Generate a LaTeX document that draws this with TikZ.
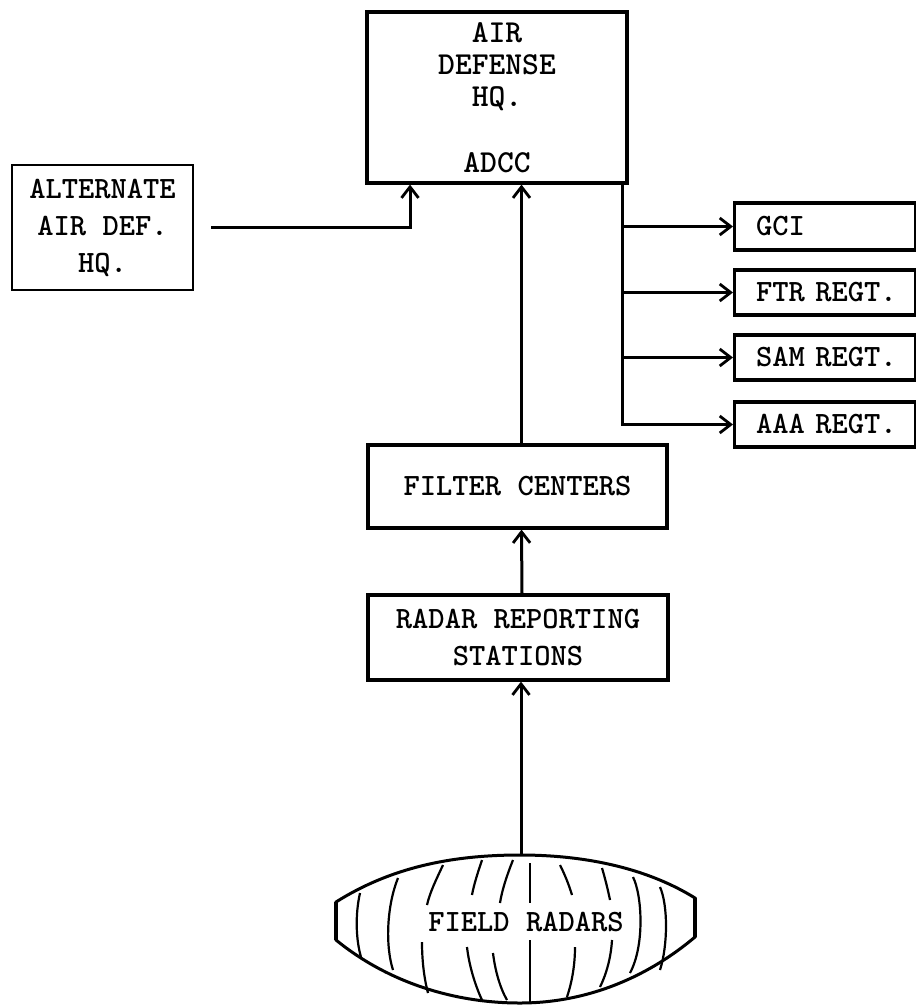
\documentclass[tikz,border=0pt]{standalone}
\usetikzlibrary{arrows.meta}
\newcommand\myTT{\fontsize{31}{37}\selectfont\ttfamily\bfseries}
\newcommand\myTTb{\fontsize{32}{32}\selectfont\ttfamily\bfseries}
\begin{document}
\begin{tikzpicture}[x=1pt,y=-1pt,
  box/.style={draw, line width=3.2pt, inner sep=0pt, align=center, font=\myTT},
  rbox/.style={draw, line width=3.2pt, anchor=west, inner xsep=10.5pt, inner ysep=0pt,
    text width=160pt, minimum height=45pt, align=left, font=\myTT},
  conn/.style={line width=3pt, -{Straight Barb[length=11pt,width=17pt,line width=2.8pt]}},
  bus/.style={line width=3pt},
  mer/.style={line width=2.2pt},
  outline/.style={line width=3pt}]
\useasboundingbox (0,0) rectangle (916,1005);

% boxes
\node[box, font=\myTTb, minimum width=260pt, minimum height=171pt] (adhq) at (497,97.5)
  {AIR\\DEFENSE\\HQ.\\[34pt]ADCC};
\node[box, line width=2.4pt, minimum width=181pt, minimum height=125pt] (alt) at (102.5,227.5)
  {ALTERNATE\\AIR DEF.\\HQ.};
\node[box, minimum width=299pt, minimum height=83pt] (filt) at (517.5,486.5)
  {FILTER CENTERS};
\node[box, minimum width=300pt, minimum height=85pt] (rrs) at (518,637.5)
  {RADAR REPORTING\\STATIONS};

\node[rbox, minimum height=47pt] (gci) at (733,226.5) {\hspace*{11pt}GCI};
\node[rbox] (ftr) at (733,292.5) {\hspace*{11pt}FTR REGT.};
\node[rbox] (sam) at (733,357.5) {\hspace*{11pt}SAM REGT.};
\node[rbox] (aaa) at (733,424.5) {\hspace*{11pt}AAA REGT.};

% bus to subordinate units
\coordinate (bustop) at (622,184);
\coordinate (busbot) at (622,426);
\draw[bus] (bustop) -- (busbot);
\draw[conn] (bustop |- gci.west) -- (gci.west);
\draw[conn] (bustop |- ftr.west) -- (ftr.west);
\draw[conn] (bustop |- sam.west) -- (sam.west);
\draw[conn] (bustop |- aaa.west) -- (aaa.west);

% alternate HQ link
\draw[conn, shorten <=17pt] (alt.east) -| ([xshift=-87pt]adhq.south);

% vertical chain
\draw[conn] ([xshift=4pt]filt.north) -- ([xshift=4pt]filt.north |- adhq.south);
\draw[conn] ([xshift=4pt]rrs.north) -- ([xshift=4pt]filt.south);

% field radars
\coordinate (frtop) at (521,855);
\draw[conn] (frtop) -- (rrs.south -| frtop);

\draw[outline] (336,902) .. controls (390,868) and (450,855) .. (520,855)
  .. controls (590,855) and (650,870) .. (695,898) -- (695,937)
  .. controls (650,975) and (590,1003) .. (520,1003)
  .. controls (450,1003) and (385,980) .. (336,940) -- cycle;

\draw[mer] (360,893) .. controls (355,915) and (356,940) .. (361,957);
\draw[mer] (398,878) .. controls (387,905) and (385,945) .. (393,970);
\draw[mer] (443,865) .. controls (436,880) and (430,892) .. (427,905);
\draw[mer] (422,942) .. controls (422,960) and (424,978) .. (428,993);
\draw[mer] (482,860) .. controls (478,872) and (474,884) .. (472,895);
\draw[mer] (467,947) .. controls (469,965) and (475,985) .. (482,1000);
\draw[mer] (513,860) .. controls (507,875) and (502,890) .. (500,903);
\draw[mer] (493,953) .. controls (495,970) and (500,988) .. (507,1000);
\draw[mer] (530,863) -- (530,903);
\draw[mer] (530,940) -- (530,1003);
\draw[mer] (560,865) .. controls (565,875) and (569,885) .. (572,895);
\draw[mer] (575,947) .. controls (575,965) and (572,982) .. (567,997);
\draw[mer] (602,868) .. controls (605,878) and (608,890) .. (610,900);
\draw[mer] (612,940) .. controls (611,958) and (606,975) .. (600,987);
\draw[mer] (633,877) .. controls (642,895) and (645,945) .. (630,973);
\draw[mer] (660,887) .. controls (668,905) and (668,945) .. (660,970);
\draw[line width=3.6pt] (695,898) -- (695,937);
\draw[line width=3.6pt] (336,902) -- (336,940);

\node[font=\myTT] (fr) at (526,922) {FIELD RADARS};
\end{tikzpicture}
\end{document}
